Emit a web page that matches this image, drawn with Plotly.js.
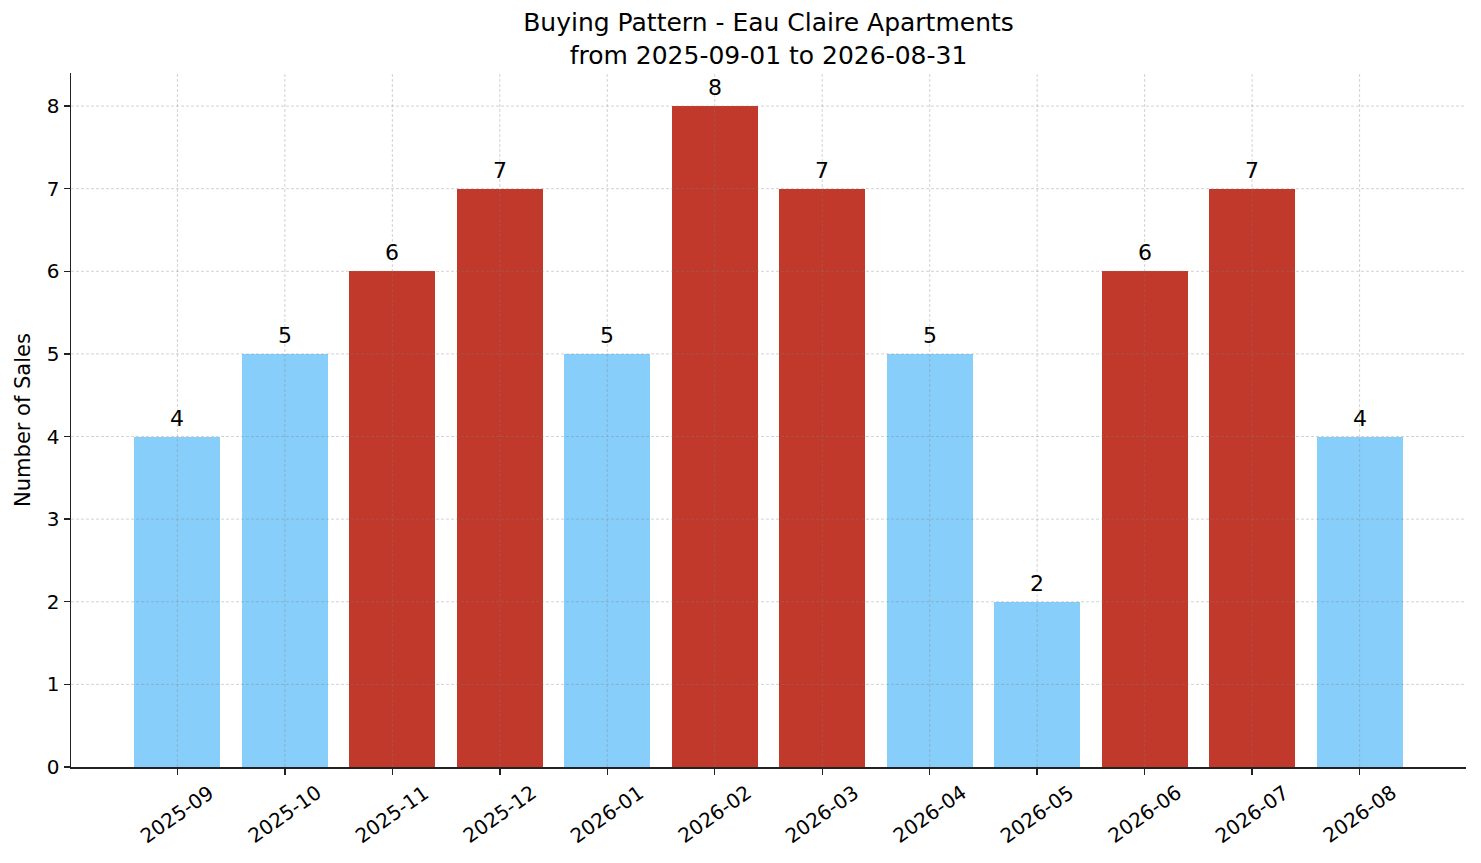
<!DOCTYPE html>
<html>
<head>
<meta charset="utf-8">
<script src="https://cdn.plot.ly/plotly-3.0.1.min.js"></script>
<style>
  body { margin: 0; background: #fff; }
  #chart { width: 1481px; height: 863px; }
</style>
</head>
<body>
<div id="chart"></div>
<script>
// monthly sales counts
var months = ["2025-09", "2025-10", "2025-11", "2025-12", "2026-01", "2026-02",
              "2026-03", "2026-04", "2026-05", "2026-06", "2026-07", "2026-08"];
var sales = [4, 5, 6, 7, 5, 8, 7, 5, 2, 6, 7, 4];
var yTicks = [0, 1, 2, 3, 4, 5, 6, 7, 8];

var FONT = "DejaVu Sans, Liberation Sans, sans-serif";
var HIGH = "#C0392B";
var LOW = "#87CEFA";
var GRID = "rgba(128,128,128,0.35)";

// busy months (6+) get red
var barColors = sales.map(function (v) { return v >= 6 ? HIGH : LOW; });
var xIdx = months.map(function (m, i) { return i; });

var trace = {
  type: "bar",
  x: xIdx,
  y: sales,
  width: 0.8,
  marker: { color: barColors },
  hoverinfo: "x+y"
};

// grid drawn on top of the bars, like the original
var shapes = [];
xIdx.forEach(function (i) {
  shapes.push({
    type: "line", layer: "above", xref: "x", yref: "paper",
    x0: i, x1: i, y0: 0, y1: 1,
    line: { color: GRID, width: 1, dash: "3px,2px" }
  });
});
yTicks.forEach(function (t) {
  if (t === 0) return;
  shapes.push({
    type: "line", layer: "above", xref: "paper", yref: "y",
    x0: 0, x1: 1, y0: t, y1: t,
    line: { color: GRID, width: 1, dash: "3px,2px" }
  });
});

// rotated month labels, centred under each tick
var annotations = months.map(function (m, i) {
  return {
    x: i, xref: "x", y: 0, yref: "paper",
    yshift: -47, xanchor: "center", yanchor: "middle",
    text: m, textangle: -35, showarrow: false,
    font: { family: FONT, size: 20, color: "#000" }
  };
});

// value labels above bars
sales.forEach(function (v, i) {
  annotations.push({
    x: i, xref: "x", y: v, yref: "y",
    yshift: 4, xanchor: "center", yanchor: "bottom",
    text: String(v), showarrow: false,
    font: { family: FONT, size: 22, color: "#000" }
  });
});

var layout = {
  width: 1481,
  height: 863,
  margin: { l: 71, r: 15, t: 73, b: 96 },
  paper_bgcolor: "#fff",
  plot_bgcolor: "#fff",
  font: { family: FONT, size: 20, color: "#000" },
  showlegend: false,
  bargap: 0,
  title: {
    text: "Buying Pattern - Eau Claire Apartments<br>from 2025-09-01 to 2026-08-31",
    font: { family: FONT, size: 25, color: "#000" },
    x: 0.5, xref: "paper", xanchor: "center",
    y: 0.964, yref: "container", yanchor: "top"
  },
  xaxis: {
    range: [-0.99, 11.99],
    tickmode: "array",
    tickvals: xIdx,
    showticklabels: false,
    ticks: "outside", ticklen: 6, tickwidth: 1.4, tickcolor: "#222",
    showgrid: false, zeroline: false,
    showline: true, linecolor: "#222", linewidth: 1.5
  },
  yaxis: {
    range: [0, 8.4],
    tickmode: "array",
    tickvals: yTicks,
    ticks: "outside", ticklen: 6, tickwidth: 1.4, tickcolor: "#222",
    tickfont: { family: FONT, size: 20, color: "#000" },
    showgrid: false, zeroline: false,
    showline: true, linecolor: "#222", linewidth: 1.5,
    title: { text: "Number of Sales", standoff: 10, font: { family: FONT, size: 21, color: "#000" } }
  },
  shapes: shapes,
  annotations: annotations
};

Plotly.newPlot("chart", [trace], layout, { displayModeBar: false, staticPlot: true });
</script>
</body>
</html>
